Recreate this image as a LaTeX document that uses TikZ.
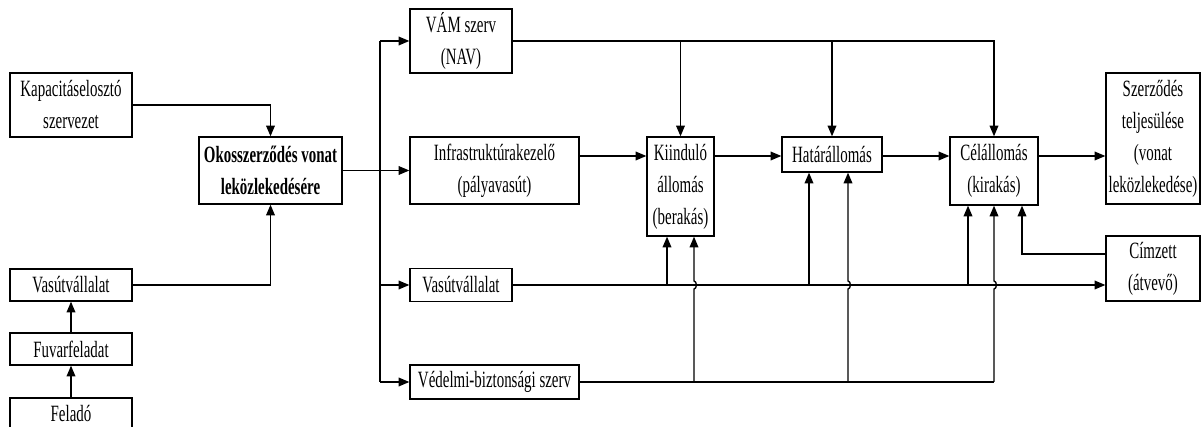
\documentclass[tikz,border=0pt]{standalone}
\usepackage{fontspec}
\setmainfont{Liberation Serif}[FakeStretch=0.64]
\usetikzlibrary{arrows.meta,calc}
\begin{document}
\begin{tikzpicture}[x=0.75pt,y=-0.75pt,
  box/.style={draw,line width=1pt,rectangle,inner sep=0pt,align=center,font=\fontsize{17.5}{24}\selectfont},
  sz/.style 2 args={minimum width=#1*0.75pt,minimum height=#2*0.75pt},
  ln/.style={line width=1pt},
  arr/.style={-{Triangle[length=8pt,width=6.5pt]}}]
\useasboundingbox (0,0) rectangle (1203,427);
\clip (0,0) rectangle (1203,427);

\node[box,sz={122}{64}] (kap) at (71,105) {Kapacitáselosztó\\szervezet};
\node[box,sz={143}{67},font=\fontsize{17.5}{24}\selectfont\bfseries] (okos) at (270.5,170.5) {Okosszerződés vonat\\leközlekedésére};
\node[box,sz={122}{32}] (vas1) at (71,285) {Vasútvállalat};
\node[box,sz={122}{32}] (fuv) at (71,349) {Fuvarfeladat};
\node[box,sz={122}{32}] (fel) at (71,414) {Feladó};
\node[box,sz={102}{64}] (vam) at (461,41) {VÁM szerv\\(NAV)};
\node[box,sz={169}{67}] (infra) at (494.5,170.5) {Infrastruktúrakezelő\\(pályavasút)};
\node[box,sz={102}{33}] (vas2) at (461,285) {Vasútvállalat};
\node[box,sz={169}{34}] (ved) at (494.5,382) {Védelmi-biztonsági szerv};
\node[box,sz={67}{99}] (kii) at (680.5,186.5) {Kiinduló\\állomás\\(berakás)};
\node[box,sz={100}{35}] (hat) at (832,154.5) {Határállomás};
\node[box,sz={88}{68}] (cel) at (994,171) {Célállomás\\(kirakás)};
\node[box,sz={94}{131}] (szer) at (1153,138.5) {Szerződés\\teljesülése\\(vonat\\leközlekedése)};
\node[box,sz={94}{65}] (cim) at (1153,268.5) {Címzett\\(átvevő)};

\coordinate (bus) at (380,0);
\coordinate (r1) at (0,156);
\coordinate (r3) at (0,254);
\coordinate (k1) at (667,0);
\coordinate (k2) at (694,0);
\coordinate (h1) at (809,0);
\coordinate (h2) at (848,0);
\coordinate (c1) at (968,0);
\coordinate (c2) at (994,0);
\coordinate (c3) at (1022,0);

% left side
\draw[ln,arr] (kap.east) -| (okos.north);
\draw[ln,arr] (vas1.east) -| (okos.south);
\draw[ln,arr] (fuv.north) -- (vas1.south);
\draw[ln,arr] (fel.north) -- (fuv.south);

% bus
\draw[ln] (vam.west -| bus) -- (ved.west -| bus);
\draw[ln,arr] (vam.west -| bus) -- (vam.west);
\draw[ln,arr] (okos.east) -- (infra.west);
\draw[ln,arr] (vas2.west -| bus) -- (vas2.west);
\draw[ln,arr] (ved.west -| bus) -- (ved.west);

% customs line
\draw[ln,arr] (vam.east) -| (cel.north);
\draw[ln,arr] (vam.east -| kii.north) -- (kii.north);
\draw[ln,arr] (vam.east -| hat.north) -- (hat.north);

% main flow
\draw[ln,arr] (infra.east |- r1) -- (kii.west |- r1);
\draw[ln,arr] (kii.east |- r1) -- (hat.west |- r1);
\draw[ln,arr] (hat.east |- r1) -- (cel.west |- r1);
\draw[ln,arr] (cel.east |- r1) -- (szer.west |- r1);

% railway company line
\draw[ln,arr] (vas2.east) -- (cim.west |- vas2.east);
\draw[ln,arr] (vas2.east -| k1) -- (kii.south -| k1);
\draw[ln,arr] (vas2.east -| h1) -- (hat.south -| h1);
\draw[ln,arr] (vas2.east -| c1) -- (cel.south -| c1);

% security line
\draw[ln] (ved.east) -- (ved.east -| c2);
\draw[ln,arr] (ved.east -| k2) -- ($(vas2.east -| k2)+(0,4)$) to[out=0,in=0] ($(vas2.east -| k2)+(0,-4)$) -- (kii.south -| k2);
\draw[ln,arr] (ved.east -| h2) -- ($(vas2.east -| h2)+(0,4)$) to[out=0,in=0] ($(vas2.east -| h2)+(0,-4)$) -- (hat.south -| h2);
\draw[ln,arr] (ved.east -| c2) -- ($(vas2.east -| c2)+(0,4)$) to[out=0,in=0] ($(vas2.east -| c2)+(0,-4)$) -- (cel.south -| c2);

% recipient
\draw[ln,arr] (cim.west |- r3) -| (cel.south -| c3);
\end{tikzpicture}
\end{document}
